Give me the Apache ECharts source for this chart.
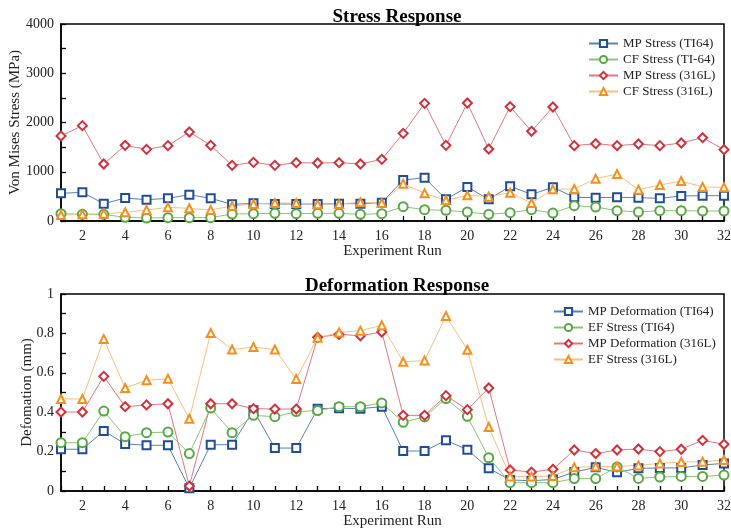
<!DOCTYPE html>
<html><head><meta charset="utf-8">
<script src="https://cdn.jsdelivr.net/npm/echarts@6/dist/echarts.min.js"></script>
<style>html,body{margin:0;padding:0;background:#fff}#c{width:731px;height:532px}</style>
</head><body><div id="c"></div>
<script>
const runs = Array.from({length:32},(_,i)=>i+1);
// Stress response (MPa)
const mpStressTi64 = [562,582,352,467,433,460,535,460,338,359,345,345,345,352,352,372,832,880,440,690,440,704,541,684,481,474,481,474,460,508,514,514];
const cfStressTi64 = [149,135,135,74,61,68,68,68,142,149,156,149,156,156,135,149,291,230,217,183,135,169,230,162,311,284,210,183,210,210,203,203];
const mpStress316L = [1726,1936,1157,1536,1455,1530,1807,1536,1130,1191,1130,1184,1178,1184,1157,1252,1780,2389,1536,2396,1462,2321,1821,2315,1530,1570,1530,1563,1530,1584,1692,1448];
const cfStress316L = [122,135,149,176,223,277,257,223,305,345,365,365,338,345,379,365,758,562,420,521,494,575,365,643,650,860,954,636,731,812,690,684];
// Deformation response (mm)
const mpDefTi64 = [0.212,0.212,0.305,0.239,0.232,0.232,0.014,0.235,0.235,0.41,0.218,0.218,0.418,0.420,0.418,0.428,0.203,0.203,0.257,0.210,0.115,0.056,0.052,0.059,0.096,0.120,0.095,0.115,0.117,0.117,0.132,0.140];
const efStressTi64 = [0.245,0.245,0.406,0.276,0.296,0.299,0.190,0.421,0.296,0.384,0.377,0.403,0.408,0.428,0.428,0.447,0.349,0.376,0.469,0.379,0.169,0.042,0.042,0.042,0.063,0.063,0.122,0.064,0.071,0.074,0.074,0.081];
const mpDef316L = [0.401,0.401,0.582,0.428,0.437,0.443,0.025,0.443,0.443,0.418,0.416,0.416,0.780,0.795,0.788,0.807,0.384,0.384,0.484,0.413,0.523,0.107,0.096,0.110,0.208,0.190,0.208,0.213,0.200,0.212,0.257,0.237];
const efStress316L = [0.467,0.467,0.772,0.523,0.562,0.570,0.367,0.802,0.718,0.731,0.718,0.569,0.778,0.805,0.814,0.841,0.656,0.662,0.888,0.717,0.325,0.073,0.073,0.076,0.120,0.124,0.124,0.130,0.140,0.147,0.149,0.157];

const FONT = '"Liberation Serif","DejaVu Serif",serif';
const TXT = '#222';
const C = {
  blue:{m:'#1f4e96',l:'#5a80b8'},
  green:{m:'#58a844',l:'#8cc47a'},
  red:{m:'#d3303a',l:'#e0787e'},
  orange:{m:'#f5901e',l:'#fbbf7c'}
};
function mk(name,data,xi,col,sym,size){
  return {name,type:'line',xAxisIndex:xi,yAxisIndex:xi,data:runs.map((r,i)=>[r,data[i]]),
    symbol:sym,symbolSize:size,showSymbol:true,
    lineStyle:{color:col.l,width:1},
    itemStyle:{color:col.m,borderColor:col.m,borderWidth:1.3},
    emphasis:{disabled:true},animation:false};
}
function xAx(gi){
  return {type:'value',gridIndex:gi,min:1,max:32,interval:1,
    name:'Experiment Run',nameLocation:'middle',nameGap:23,nameMoveOverlap:false,
    nameTextStyle:{fontFamily:FONT,fontSize:15,color:TXT},
    axisLine:{lineStyle:{color:'#000',width:1.5}},
    axisTick:{inside:true,length:5,lineStyle:{color:'#000',width:1.3}},
    axisLabel:{fontFamily:FONT,fontSize:14,color:TXT,margin:8,formatter:v=>(v%2===0?String(v):'')},
    splitLine:{show:false}};
}
function yAx(gi,name,max,interval,gap){
  return {type:'value',gridIndex:gi,min:0,max:max,interval:interval,
    name:name,nameLocation:'middle',nameGap:gap,nameMoveOverlap:false,
    nameTextStyle:{fontFamily:FONT,fontSize:15,color:TXT},
    axisLine:{show:true,lineStyle:{color:'#000',width:1.5}},
    axisTick:{inside:true,length:5,lineStyle:{color:'#000',width:1.3}},
    minorTick:{show:true,splitNumber:2,length:5,lineStyle:{color:'#000',width:1.3}},
    axisLabel:{fontFamily:FONT,fontSize:14,color:TXT,margin:7,formatter:v=>String(+v.toFixed(2))},
    splitLine:{show:false}};
}
const chart = echarts.init(document.getElementById('c'),null,{renderer:'canvas'});
chart.setOption({
  animation:false,
  backgroundColor:'#fff',
  title:[
    {text:'Stress Response',left:392,top:3,textAlign:'center',textStyle:{fontFamily:FONT,fontSize:19,fontWeight:'bold',color:'#000'}},
    {text:'Deformation Response',left:392,top:272,textAlign:'center',textStyle:{fontFamily:FONT,fontSize:19,fontWeight:'bold',color:'#000'}}
  ],
  grid:[
    {left:61,right:7,top:24,height:197,show:true,borderColor:'#000',borderWidth:1.5,backgroundColor:'transparent',containLabel:false,outerBoundsMode:'none'},
    {left:61,right:7,top:294,height:197,show:true,borderColor:'#000',borderWidth:1.5,backgroundColor:'transparent',containLabel:false,outerBoundsMode:'none'}
  ],
  legend:[
    {data:['MP Stress (TI64)','CF Stress (TI-64)','MP Stress (316L)','CF Stress (316L)'],
     orient:'vertical',left:583,top:32,itemWidth:29,itemHeight:9,itemGap:3,
     textStyle:{fontFamily:FONT,fontSize:13,color:TXT},selectedMode:false},
    {data:['MP Deformation (TI64)','EF Stress (TI64)','MP Deformation (316L)','EF Stress (316L)'],
     orient:'vertical',left:548,top:300,itemWidth:29,itemHeight:9,itemGap:3,
     textStyle:{fontFamily:FONT,fontSize:13,color:TXT},selectedMode:false}
  ],
  xAxis:[xAx(0),xAx(1)],
  yAxis:[yAx(0,'Von Mises Stress (MPa)',4000,1000,38),yAx(1,'Defomation (mm)',1,0.2,26)],
  series:[
    mk('MP Stress (TI64)',mpStressTi64,0,C.blue,'emptyRect',8),
    mk('CF Stress (TI-64)',cfStressTi64,0,C.green,'emptyCircle',9),
    mk('MP Stress (316L)',mpStress316L,0,C.red,'emptyDiamond',[9,9]),
    mk('CF Stress (316L)',cfStress316L,0,C.orange,'emptyTriangle',8),
    mk('MP Deformation (TI64)',mpDefTi64,1,C.blue,'emptyRect',8),
    mk('EF Stress (TI64)',efStressTi64,1,C.green,'emptyCircle',9),
    mk('MP Deformation (316L)',mpDef316L,1,C.red,'emptyDiamond',[9,9]),
    mk('EF Stress (316L)',efStress316L,1,C.orange,'emptyTriangle',8)
  ]
});
</script></body></html>
